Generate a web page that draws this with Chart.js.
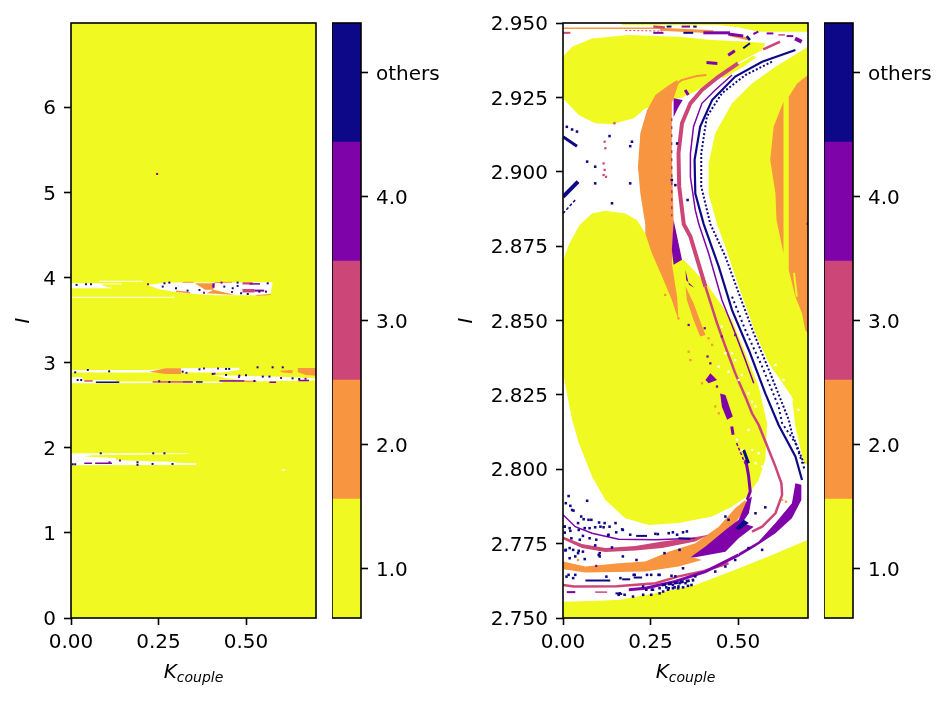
<!DOCTYPE html>
<html>
<head>
<meta charset="utf-8">
<script src="https://cdn.jsdelivr.net/npm/chart.js@4/dist/chart.umd.js"></script>
<style>
  html, body { margin: 0; background: #fff; }
  .box { position: absolute; top: 0; height: 703px; }
  .xlabel { position: absolute; top: 659px; width: 245px; text-align: center; font: italic 20px "DejaVu Sans"; color: #000; }
  .xlabel sub { font-size: 14px; vertical-align: -4px; line-height: 0; }
</style>
</head>
<body>
<div class="box" style="left:0;width:326px"><canvas id="mainLeft"></canvas></div>
<div class="box" style="left:332px;width:118px"><canvas id="barLeft"></canvas></div>
<div class="box" style="left:440px;width:378px"><canvas id="mainRight"></canvas></div>
<div class="box" style="left:824px;width:125px"><canvas id="barRight"></canvas></div>
<div class="xlabel" style="left:71px">K<sub>couple</sub></div>
<div class="xlabel" style="left:563px">K<sub>couple</sub></div>
<script>
const YELLOW = '#f0f921', ORANGE = '#f89540', PINK = '#cc4778', PURPLE = '#7e03a8', NAVY = '#0d0887', WHITE = '#ffffff';

const cbValues = [1, 2, 3, 4, 5];
const cbLabels = ['1.0', '2.0', '3.0', '4.0', 'others'];
const cbEdges = [0.6, 1.56, 2.52, 3.48, 4.44, 5.4];
const cbColors = [YELLOW, ORANGE, PINK, PURPLE, NAVY];

const xTicks = [0, 0.25, 0.5];
const xTickLabels = ['0.00', '0.25', '0.50'];
const leftYTicks = [0, 1, 2, 3, 4, 5, 6];
const leftYLabels = ['0', '1', '2', '3', '4', '5', '6'];
const rightYTicks = [2.75, 2.775, 2.8, 2.825, 2.85, 2.875, 2.9, 2.925, 2.95];
const rightYLabels = ['2.750', '2.775', '2.800', '2.825', '2.850', '2.875', '2.900', '2.925', '2.950'];

// left panel, regions as [Kcouple, I]
const lBase = [[0, 0], [0.7, 0], [0.7, 6.99], [0, 6.99]];
const lWhite39a = [[0, 3.932], [0.09, 3.932], [0.09, 3.905], [0.119, 3.874], [0, 3.874]];
const lWhite39b = [[0.219, 3.913], [0.271, 3.94], [0.576, 3.944], [0.571, 3.815], [0.548, 3.791], [0.414, 3.791], [0.319, 3.815], [0.252, 3.862]];
const lWhite29a = [[0, 2.914], [0.224, 2.914], [0.31, 2.934], [0.481, 2.941], [0.481, 2.914], [0.43, 2.883], [0, 2.883]];
const lWhite28a = [[0, 2.828], [0.033, 2.828], [0.033, 2.796], [0.128, 2.796], [0.128, 2.777], [0.433, 2.777], [0.433, 2.76], [0, 2.757]];
const lWhite28b = [[0.405, 2.855], [0.576, 2.836], [0.7, 2.816], [0.7, 2.789], [0.519, 2.777], [0.443, 2.816]];
const lWhite19 = [[0, 1.935], [0.167, 1.935], [0.333, 1.935], [0.333, 1.927], [0.167, 1.919], [0.062, 1.912], [0.038, 1.896], [0.129, 1.88], [0.129, 1.857], [0.224, 1.841], [0.295, 1.837], [0.3, 1.825], [0.357, 1.818], [0.357, 1.798], [0, 1.794]];
const lOrange1 = [[0.354, 3.933], [0.412, 3.933], [0.407, 3.855], [0.383, 3.855]];
const lOrange2 = [[0.407, 3.855], [0.469, 3.796], [0.388, 3.815]];
const lOrange3 = [[0.224, 2.894], [0.271, 2.934], [0.314, 2.934], [0.314, 2.867], [0.271, 2.867]];
const lOrange4 = [[0.648, 2.937], [0.7, 2.937], [0.7, 2.847], [0.671, 2.855], [0.648, 2.886]];
const lOrange5 = [[0.595, 2.906], [0.633, 2.914], [0.633, 2.875], [0.605, 2.883]];
const lPink1 = [[0.49, 3.866], [0.524, 3.866], [0.524, 3.823], [0.49, 3.823]];
const lPink2 = [[0.49, 3.944], [0.519, 3.944], [0.519, 3.917], [0.49, 3.917]];
const lNavyDots = [[0.043, 3.921], [0.057, 3.921], [0.016, 3.913], [0.262, 3.893], [0.267, 3.932], [0.3, 3.874], [0.333, 3.846], [0.367, 3.854], [0.438, 3.893], [0.462, 3.874], [0.476, 3.901], [0.486, 3.815], [0.505, 3.807], [0.557, 3.834], [0.538, 3.834], [0.562, 3.932], [0.476, 3.94], [0.281, 3.94],
  [0.048, 2.914], [0.109, 2.898], [0.012, 2.886], [0.319, 2.894], [0.443, 2.926], [0.452, 2.926], [0.533, 2.945], [0.576, 2.945], [0.605, 2.945], [0.367, 2.922], [0.405, 2.867], [0.443, 2.855], [0.481, 2.847], [0.5, 2.851], [0.548, 2.836], [0.567, 2.836], [0.524, 2.785], [0.633, 2.816], [0.652, 2.808], [0.019, 2.796], [0.029, 2.796], [0.252, 2.781], [0.281, 2.773],
  [0.005, 1.806], [0.012, 1.806], [0.085, 1.935], [0.235, 1.935], [0.267, 1.935], [0.19, 1.83], [0.233, 1.81], [0.29, 1.81], [0.19, 1.8]];
const lPurpleDots = [[0.22, 3.92], [0.407, 3.92], [0.407, 3.905], [0.407, 3.89], [0.38, 3.82], [0.46, 3.83], [0.43, 3.94], [0.33, 2.88], [0.38, 2.93], [0.42, 2.93], [0.41, 2.87], [0.48, 2.83], [0.6, 2.82], [0.67, 2.81], [0.11, 1.83], [0.14, 1.85], [0.246, 5.217]];

// right panel, regions as [Kcouple, I]
const rTopBand = [[0.169, 2.95], [0.7, 2.95], [0.7, 2.9471], [0.56, 2.9471], [0.5, 2.9486], [0.44, 2.9493], [0.169, 2.9493]];
const rBlobTop = [[0, 2.9387], [0.026, 2.942], [0.083, 2.9448], [0.188, 2.946], [0.33, 2.9454], [0.426, 2.9443], [0.53, 2.9437], [0.578, 2.9432], [0.569, 2.9409], [0.502, 2.9367], [0.445, 2.9322], [0.378, 2.927], [0.34, 2.925], [0.311, 2.9241], [0.235, 2.9213], [0.202, 2.918], [0.14, 2.916], [0.092, 2.9163], [0.045, 2.9191], [0, 2.9247]];
const rStreak = [[0.449, 2.9325], [0.506, 2.9364], [0.544, 2.939], [0.552, 2.9385], [0.515, 2.9353], [0.458, 2.9314]];
const rBlobRight = [[0.7, 2.942], [0.607, 2.9353], [0.54, 2.9297], [0.483, 2.923], [0.435, 2.9129], [0.416, 2.9028], [0.416, 2.8927], [0.44, 2.8824], [0.464, 2.8748], [0.502, 2.8614], [0.55, 2.8457], [0.588, 2.8356], [0.654, 2.8244], [0.664, 2.8144], [0.688, 2.802], [0.7, 2.8015]];
const rBlobLow = [[0, 2.8698], [0.016, 2.8754], [0.045, 2.8816], [0.05, 2.8824], [0.083, 2.886], [0.121, 2.8869], [0.178, 2.886], [0.211, 2.8838], [0.235, 2.8793], [0.32, 2.872], [0.35, 2.8698], [0.416, 2.8614], [0.483, 2.8502], [0.521, 2.839], [0.559, 2.8278], [0.583, 2.8155], [0.578, 2.8032], [0.559, 2.7964], [0.526, 2.7908], [0.483, 2.7875], [0.426, 2.7841], [0.33, 2.7819], [0.245, 2.7813], [0.178, 2.7835], [0.121, 2.7897], [0.083, 2.7976], [0.045, 2.8088], [0.026, 2.8166], [0, 2.8323]];
const rBottom = [[0, 2.7555], [0.102, 2.7558], [0.164, 2.7561], [0.264, 2.7583], [0.378, 2.7611], [0.492, 2.7662], [0.587, 2.7707], [0.7, 2.7763], [0.7, 2.75], [0, 2.75]];
const rOrangeWedge = [[0.326, 2.9308], [0.302, 2.9291], [0.264, 2.9258], [0.24, 2.9207], [0.221, 2.9129], [0.214, 2.9017], [0.221, 2.8927], [0.235, 2.8824], [0.235, 2.8793], [0.254, 2.8726], [0.283, 2.8648], [0.311, 2.8569], [0.33, 2.8502], [0.326, 2.858], [0.311, 2.8692], [0.316, 2.8838], [0.311, 2.9062], [0.311, 2.923], [0.33, 2.9296]];
const rOrangeStreak = [[0.35, 2.8614], [0.373, 2.8558], [0.407, 2.8451], [0.392, 2.8446], [0.373, 2.8502], [0.354, 2.8569]];
const rOrangeR1 = [[0.63, 2.9235], [0.602, 2.9152], [0.592, 2.904], [0.607, 2.8927], [0.61, 2.8838], [0.63, 2.8726]];
const rOrangeR2 = [[0.7, 2.9325], [0.669, 2.9297], [0.645, 2.9252], [0.645, 2.867], [0.664, 2.858], [0.683, 2.8524], [0.692, 2.8468], [0.7, 2.8457]];
const rOrangeBand = [[0, 2.769], [0.064, 2.7673], [0.159, 2.7684], [0.235, 2.769], [0.302, 2.7723], [0.378, 2.7751], [0.445, 2.7807], [0.492, 2.7869], [0.521, 2.7897], [0.526, 2.7875], [0.492, 2.7819], [0.454, 2.7774], [0.416, 2.7729], [0.364, 2.7707], [0.397, 2.7695], [0.33, 2.7673], [0.235, 2.7656], [0.064, 2.7653], [0, 2.7664]];
const rPurple1 = [[0.316, 2.9247], [0.342, 2.9241], [0.33, 2.9218], [0.316, 2.9184]];
const rPurple2 = [[0.316, 2.8838], [0.326, 2.8782], [0.34, 2.8704], [0.316, 2.8687], [0.311, 2.8737]];
const rPurple3 = [[0.35, 2.867], [0.36, 2.862], [0.375, 2.861], [0.352, 2.8635]];
const rPurple4 = [[0.407, 2.83], [0.421, 2.8323], [0.44, 2.83], [0.416, 2.8289]];
const rPurple5 = [[0.449, 2.8255], [0.464, 2.825], [0.485, 2.8177], [0.469, 2.8166], [0.454, 2.821]];
const rPurpleArc = [[0.664, 2.7953], [0.681, 2.7948], [0.681, 2.7897], [0.654, 2.7835], [0.607, 2.7785], [0.55, 2.774], [0.502, 2.7707], [0.502, 2.7718], [0.559, 2.7757], [0.607, 2.7819], [0.654, 2.7886]];
const rPurpleWedge = [[0.364, 2.7704], [0.407, 2.774], [0.464, 2.7796], [0.502, 2.783], [0.526, 2.7897], [0.54, 2.7908], [0.531, 2.7852], [0.512, 2.7819], [0.545, 2.7807], [0.502, 2.7768], [0.464, 2.7723], [0.378, 2.7704]];
const rNavyChunk = [[0.492, 2.7802], [0.516, 2.783], [0.531, 2.7819], [0.502, 2.7796]];
const rPinkUpper = [[0, 2.7774], [0.054, 2.7749], [0.121, 2.7735], [0.207, 2.7742], [0.283, 2.7757], [0.359, 2.7768], [0.416, 2.778], [0.378, 2.7757], [0.283, 2.7735], [0.207, 2.7727], [0.121, 2.7722], [0.054, 2.7735], [0, 2.7765]];

const rPinkArc = [[0.5, 2.9364], [0.445, 2.932], [0.397, 2.9275], [0.364, 2.923], [0.34, 2.9163], [0.33, 2.9062], [0.332, 2.895], [0.345, 2.8824], [0.364, 2.8782], [0.387, 2.8692], [0.407, 2.8614]];
const rPinkTail = [[0.407, 2.8614], [0.44, 2.8491], [0.464, 2.8412], [0.492, 2.8323], [0.521, 2.8244], [0.54, 2.8188], [0.559, 2.8149], [0.588, 2.8065], [0.607, 2.8009], [0.624, 2.7953], [0.626, 2.7914], [0.607, 2.7852], [0.569, 2.7807], [0.54, 2.779]];
const rPinkLower = [[0, 2.7611], [0.031, 2.7606], [0.154, 2.7607], [0.264, 2.7617], [0.33, 2.764], [0.397, 2.7656], [0.473, 2.7684]];
const rPurpleThin = [[0.483, 2.9325], [0.435, 2.9275], [0.397, 2.923], [0.373, 2.9152], [0.364, 2.9062], [0.364, 2.8983], [0.378, 2.8871], [0.388, 2.8824], [0.416, 2.8726], [0.454, 2.8569], [0.492, 2.8457], [0.521, 2.8367], [0.545, 2.8289]];
const rPurpleTail = [[0.502, 2.7712], [0.407, 2.7656], [0.321, 2.7623], [0.235, 2.76], [0.188, 2.7595]];
const rPurpleUpper = [[0, 2.7847], [0.035, 2.7807], [0.083, 2.7785], [0.159, 2.7765], [0.264, 2.7763], [0.378, 2.7768]];
const rPurpleNeck = [[0.522, 2.8032], [0.53, 2.798], [0.535, 2.7925], [0.526, 2.7897]];
const rNavy1 = [[0.664, 2.9409], [0.569, 2.937], [0.492, 2.932], [0.426, 2.9241], [0.392, 2.9152], [0.376, 2.904], [0.378, 2.8927], [0.402, 2.8824], [0.445, 2.8681], [0.483, 2.8535], [0.531, 2.8401], [0.578, 2.8255], [0.616, 2.8149], [0.664, 2.8043], [0.683, 2.7964]];
const rNavy2 = [[0.597, 2.937], [0.521, 2.9325], [0.454, 2.9264], [0.411, 2.9185], [0.395, 2.9062], [0.395, 2.895], [0.421, 2.8824], [0.464, 2.8715], [0.502, 2.8592], [0.545, 2.8457], [0.592, 2.8323], [0.645, 2.8166], [0.654, 2.8121], [0.688, 2.802]];
const rNavy3 = [[0.483, 2.858], [0.521, 2.8468], [0.569, 2.8345], [0.616, 2.8211], [0.626, 2.8155], [0.664, 2.8088], [0.69, 2.8]];
const rNavyDots = [[0.016, 2.791], [0.069, 2.7894], [0.026, 2.7863], [0.059, 2.7832], [0.073, 2.783], [0.092, 2.7805], [0.116, 2.7805], [0.15, 2.7819], [0.169, 2.7798], [0.005, 2.7807], [0.021, 2.7793], [0.045, 2.7796], [0.13, 2.778], [0.192, 2.778], [0.264, 2.7783], [0.302, 2.7785], [0.326, 2.778], [0.354, 2.7791], [0.045, 2.7726], [0.007, 2.7727], [0.035, 2.7707], [0.102, 2.7712], [0.14, 2.7737], [0.092, 2.7744], [0.016, 2.7645], [0.035, 2.7645], [0.164, 2.7634], [0.202, 2.7645], [0.24, 2.7645], [0.273, 2.7645], [0.321, 2.764], [0.378, 2.764], [0.435, 2.7656], [0.464, 2.7673], [0.492, 2.7695], [0.53, 2.7735], [0.569, 2.7729], [0.473, 2.783], [0.464, 2.7841], [0.55, 2.7852], [0.578, 2.7872], [0.33, 2.7606], [0.302, 2.76], [0.254, 2.7595], [0.35, 2.7617], [0.159, 2.7578],
  [0.008, 2.7886], [0.021, 2.7877], [0.03, 2.7861], [0.052, 2.7841], [0.081, 2.783], [0.103, 2.7821], [0.119, 2.7819], [0.005, 2.7807], [0.019, 2.7802], [0.043, 2.7819], [0.062, 2.7802], [0.076, 2.7802], [0.107, 2.7807], [0.133, 2.7807], [0.171, 2.7796], [0.152, 2.7788], [0.271, 2.7782], [0.314, 2.7788], [0.343, 2.7788], [0.005, 2.7787], [0.024, 2.7768], [0.048, 2.7763], [0.076, 2.7768], [0.095, 2.7763], [0.129, 2.7777], [0.057, 2.7776], [0.019, 2.7735], [0.008, 2.7729], [0.029, 2.7729], [0.043, 2.7718], [0.057, 2.7723], [0.105, 2.7718], [0.105, 2.7707], [0.019, 2.7701], [0.062, 2.7698], [0.171, 2.7707], [0.21, 2.7695], [0.29, 2.7718], [0.333, 2.7729], [0.01, 2.7639], [0.029, 2.7634], [0.124, 2.7639], [0.205, 2.7645], [0.252, 2.7645], [0.276, 2.7645], [0.31, 2.7642], [0.343, 2.7667],
  [0.229, 2.7606], [0.238, 2.7595], [0.257, 2.7595], [0.276, 2.76], [0.295, 2.7603], [0.314, 2.76], [0.329, 2.76], [0.343, 2.7603], [0.357, 2.7608], [0.367, 2.7611], [0.2, 2.7572], [0.162, 2.7583], [0.176, 2.7578], [0.229, 2.7578], [0.252, 2.7578], [0.276, 2.7583], [0.3, 2.7595], [0.319, 2.7603], [0.286, 2.7589], [0.333, 2.7617], [0.314, 2.7611],
  [0.011, 2.9151], [0.026, 2.9142], [0.04, 2.9135], [0.197, 2.9101], [0.192, 2.9086], [0.092, 2.8961], [0.133, 2.912], [0.069, 2.9034], [0.192, 2.8961], [0.092, 2.9017], [0.14, 2.8894], [0.311, 2.8972], [0.321, 2.8955], [0.356, 2.8905], [0.326, 2.9095], [0.7, 2.8825]];
const rPinkDots = [[0.119, 2.9101], [0.121, 2.9079], [0.116, 2.9028], [0.119, 2.9006], [0.116, 2.8989], [0.123, 2.8983], [0.147, 2.9163]];
const rOrangeDots = [[0.292, 2.8586], [0.33, 2.8507], [0.359, 2.8395], [0.364, 2.8367], [0.397, 2.8289], [0.435, 2.8211], [0.445, 2.8188], [0.426, 2.8418], [0.416, 2.844], [0.626, 2.7897], [0.637, 2.7891], [0.043, 2.7695]];
const rPurpleDots = [[0.413, 2.8379], [0.421, 2.8356], [0.492, 2.8451], [0.454, 2.8446], [0.405, 2.8474], [0.359, 2.8485], [0.44, 2.8278], [0.095, 2.7675]];
const rWhiteDots = [[0.454, 2.8479], [0.464, 2.839], [0.483, 2.839], [0.492, 2.8367], [0.445, 2.8345], [0.502, 2.83], [0.473, 2.8328], [0.511, 2.8317], [0.53, 2.8255], [0.54, 2.8227], [0.654, 2.8233], [0.673, 2.82], [0.607, 2.8351], [0.63, 2.83], [0.55, 2.8211], [0.497, 2.8099], [0.511, 2.8065], [0.54, 2.8065], [0.559, 2.8054], [0.55, 2.802], [0.569, 2.8009], [0.53, 2.8132]];

function xy(arr) { return arr.map(p => ({ x: p[0], y: p[1] })) }

function poly(color, arr) {
  return { data: xy([...arr, arr[0]]), showLine: true, fill: 'shape', backgroundColor: color, borderColor: color, borderWidth: 0, pointRadius: 0, tension: 0 }
}

function line(color, width, arr, dash) {
  return { data: xy(arr), showLine: true, fill: false, borderColor: color, borderWidth: width, borderDash: dash || [], pointRadius: 0, tension: 0 }
}

function dots(color, arr, size) {
  return { data: xy(arr), showLine: false, pointStyle: 'rect', pointRadius: size || 1.6, backgroundColor: color, borderWidth: 0 }
}

const leftLayers = [
  poly(YELLOW, lBase),
  poly(WHITE, lWhite39a), poly(WHITE, lWhite39b), poly(WHITE, lWhite29a), poly(WHITE, lWhite28a), poly(WHITE, lWhite28b), poly(WHITE, lWhite19),
  line(WHITE, 1, [[0.081, 3.956], [0.205, 3.956]]), line(WHITE, 1, [[0.09, 3.925], [0.145, 3.925]]), line(WHITE, 1, [[0, 3.768], [0.295, 3.768]]),
  line(WHITE, 1.5, [[0.603, 1.739], [0.612, 1.739]]),
  poly(ORANGE, lOrange1), poly(ORANGE, lOrange2), poly(ORANGE, lOrange3), poly(ORANGE, lOrange4), poly(ORANGE, lOrange5),
  line(ORANGE, 1, [[0.319, 3.944], [0.35, 3.944]]), line(ORANGE, 1, [[0.41, 3.94], [0.46, 3.944]]), line(ORANGE, 1.5, [[0.3, 3.84], [0.34, 3.82]]), line(ORANGE, 1, [[0.53, 3.79], [0.57, 3.8]]),
  line(ORANGE, 1.5, [[0.495, 2.78], [0.53, 2.78]]),
  poly(PINK, lPink1), poly(PINK, lPink2),
  line(PINK, 1.5, [[0.038, 2.785], [0.062, 2.785]]), line(PINK, 1.5, [[0.233, 2.773], [0.319, 2.773]]),
  line(PURPLE, 1.5, [[0.51, 3.925], [0.54, 3.925]]), line(PURPLE, 2, [[0.524, 3.846], [0.552, 3.846]]),
  line(PURPLE, 1.5, [[0.319, 2.773], [0.348, 2.773]]), line(PURPLE, 1.5, [[0.424, 2.785], [0.495, 2.785]]), line(PURPLE, 1.5, [[0.567, 2.77], [0.586, 2.77]]), line(PURPLE, 1.5, [[0.65, 2.79], [0.68, 2.79]]),
  line(PURPLE, 1.5, [[0.038, 1.818], [0.06, 1.818]]), line(PURPLE, 1.5, [[0.069, 1.818], [0.117, 1.818]]),
  line(NAVY, 1.5, [[0.071, 2.77], [0.138, 2.77]]), line(NAVY, 1.5, [[0.357, 2.773], [0.376, 2.773]]),
  dots(NAVY, lNavyDots, 1.4), dots(PURPLE, lPurpleDots, 1.4),
];

const rightLayers = [
  poly(YELLOW, rTopBand), poly(YELLOW, rBlobTop), poly(YELLOW, rStreak), poly(YELLOW, rBlobRight), poly(YELLOW, rBlobLow), poly(YELLOW, rBottom),
  poly(ORANGE, rOrangeWedge), poly(ORANGE, rOrangeStreak), poly(ORANGE, rOrangeR1), poly(ORANGE, rOrangeR2), poly(ORANGE, rOrangeBand),
  line(YELLOW, 2, [[0.66, 2.866], [0.668, 2.858]]),
  line(ORANGE, 1.5, [[0, 2.9482], [0.283, 2.9482]]), line(ORANGE, 3, [[0.277, 2.9479], [0.43, 2.9471]]), line(ORANGE, 3, [[0.477, 2.946], [0.534, 2.9445]]),
  line(ORANGE, 2, [[0.32, 2.9292], [0.339, 2.9308], [0.382, 2.9322], [0.41, 2.9325]]),
  line(PINK, 4, rPinkArc), line(PINK, 2.5, rPinkTail), line(PINK, 2.5, rPinkLower), poly(PINK, rPinkUpper),
  line(PINK, 2.5, [[0.258, 2.9488], [0.291, 2.9485]]), line(PINK, 2, [[0, 2.9467], [0.021, 2.9467]]), line(PINK, 1, [[0.178, 2.9475], [0.283, 2.9473]], [2, 2]),
  line(PINK, 1.5, [[0.092, 2.7587], [0.126, 2.7587]]), line(PINK, 2.5, [[0.572, 2.9411], [0.62, 2.9437]]), line(PINK, 1.5, [[0.615, 2.946], [0.634, 2.946]]),
  line(PURPLE, 1.5, rPurpleThin), line(PURPLE, 3, rPurpleTail), line(PURPLE, 1.5, rPurpleUpper), line(PURPLE, 3, rPurpleNeck),
  line(PURPLE, 1.5, [[0.496, 2.8088], [0.524, 2.8009]], [3, 2]), line(PURPLE, 3, [[0.482, 2.8144], [0.486, 2.8116]]),
  line(PURPLE, 1, [[0.311, 2.918], [0.311, 2.885]], [3, 5]),
  poly(PURPLE, rPurple1), poly(PURPLE, rPurple2), poly(PURPLE, rPurple3), poly(PURPLE, rPurple4), poly(PURPLE, rPurple5), poly(PURPLE, rPurpleArc), poly(PURPLE, rPurpleWedge),
  line(PURPLE, 3, [[0.401, 2.9467], [0.477, 2.9467]]), line(PURPLE, 3, [[0.472, 2.9463], [0.515, 2.9456]]), line(PURPLE, 2, [[0.339, 2.9488], [0.363, 2.9488]]), line(PURPLE, 2, [[0.258, 2.9467], [0.287, 2.9467]]),
  line(PURPLE, 3, [[0.472, 2.9392], [0.491, 2.9407]]), line(PURPLE, 3, [[0.41, 2.9367], [0.441, 2.9364]]), line(PURPLE, 3, [[0.349, 2.9275], [0.358, 2.9258]]),
  line(PURPLE, 2, [[0.544, 2.9463], [0.558, 2.9471]]), line(PURPLE, 2, [[0.582, 2.9465], [0.601, 2.9465]]), line(PURPLE, 2, [[0.639, 2.9456], [0.658, 2.9456]]), line(PURPLE, 4, [[0.663, 2.9448], [0.682, 2.9437]]),
  line(PURPLE, 2, [[0.011, 2.7587], [0.035, 2.7587]]),
  line(NAVY, 2.2, rNavy1), line(NAVY, 2, rNavy2, [2, 2]), line(NAVY, 2, rNavy3, [2, 3]), poly(NAVY, rNavyChunk),
  line(NAVY, 3, [[0, 2.9118], [0.04, 2.9086]]), line(NAVY, 4, [[0, 2.8916], [0.043, 2.8967]]), line(NAVY, 1.5, [[0, 2.886], [0.035, 2.8905]], [3, 2]),
  line(NAVY, 2, [[0.296, 2.9488], [0.31, 2.9488]]), line(NAVY, 2, [[0.372, 2.9488], [0.382, 2.9488]]), line(NAVY, 2, [[0.344, 2.9467], [0.372, 2.9467]]), line(NAVY, 2.5, [[0.525, 2.9456], [0.534, 2.9443]]), line(NAVY, 2, [[0.515, 2.9415], [0.534, 2.9432]]),
  line(NAVY, 3, [[0.516, 2.8065], [0.53, 2.802]]),
  line(NAVY, 2, [[0.064, 2.7626], [0.135, 2.7626]]), line(NAVY, 2, [[0.169, 2.763], [0.192, 2.763]]), line(NAVY, 2, [[0.202, 2.7636], [0.226, 2.7636]]),
  line(NAVY, 2, [[0.209, 2.7776], [0.24, 2.7776]]), line(NAVY, 2, [[0.33, 2.7768], [0.364, 2.7766]]), line(NAVY, 3, [[0.283, 2.7611], [0.375, 2.7628]], [4, 2]), line(NAVY, 2, [[0.15, 2.7583], [0.169, 2.7581]]),
  dots(NAVY, rNavyDots, 1.8), dots(PINK, rPinkDots), dots(ORANGE, rOrangeDots), dots(PURPLE, rPurpleDots), dots(WHITE, rWhiteDots),
];

const FONT = { family: 'DejaVu Sans', size: 20 };

// frame around the plot area, like the axes spines
const spines = {
  id: 'spines',
  afterDatasetsDraw(chart) {
    const { ctx, chartArea: a } = chart;
    ctx.save();
    ctx.strokeStyle = '#000';
    ctx.lineWidth = 1.6;
    ctx.strokeRect(a.left, a.top, a.right - a.left, a.bottom - a.top);
    ctx.restore();
  }
};

function tickGrid() {
  return { display: true, drawOnChartArea: false, drawTicks: true, tickLength: 7, tickWidth: 1.6, tickColor: '#000' }
}

function mainChart(id, layers, yMin, yMax, yTicks, yLabels, axisWidth, titlePad, right) {
  new Chart(document.getElementById(id), {
    type: 'scatter',
    // first dataset is drawn last in chart.js
    data: { datasets: layers.slice().reverse() },
    plugins: [spines],
    options: {
      responsive: true,
      maintainAspectRatio: false,
      animation: false,
      layout: { autoPadding: false, padding: { top: 23, right: right, bottom: 0, left: 0 } },
      plugins: { legend: { display: false }, tooltip: { enabled: false } },
      scales: {
        x: {
          type: 'linear', min: 0, max: 0.7,
          afterBuildTicks: s => { s.ticks = xTicks.map(v => ({ value: v })) },
          afterFit: s => { s.height = 85 },
          grid: tickGrid(),
          border: { display: false },
          ticks: { color: '#000', font: FONT, padding: 6, maxRotation: 0, autoSkip: false, callback: (v, i) => xTickLabels[i] },
        },
        y: {
          type: 'linear', min: yMin, max: yMax,
          afterBuildTicks: s => { s.ticks = yTicks.map(v => ({ value: v })) },
          afterFit: s => { s.width = axisWidth },
          grid: tickGrid(),
          border: { display: false },
          title: { display: true, text: 'I', color: '#000', font: { family: 'DejaVu Sans', size: 20, style: 'italic' }, padding: { top: titlePad, bottom: 0 } },
          ticks: { color: '#000', font: FONT, padding: 8, labelOffset: 2, autoSkip: false, callback: (v, i) => yLabels[i] },
        },
      },
    }
  });
}

function colorBar(id) {
  new Chart(document.getElementById(id), {
    type: 'bar',
    data: {
      labels: [''],
      datasets: cbColors.map((c, i) => ({ data: [[cbEdges[i], cbEdges[i + 1]]], backgroundColor: c, borderWidth: 0, barPercentage: 1, categoryPercentage: 1, grouped: false })),
    },
    plugins: [spines],
    options: {
      responsive: true,
      maintainAspectRatio: false,
      animation: false,
      layout: { autoPadding: false, padding: { top: 23, right: 0, bottom: 85, left: 0 } },
      plugins: { legend: { display: false }, tooltip: { enabled: false } },
      scales: {
        x: { display: false },
        y: {
          type: 'linear', position: 'right', min: 0.6, max: 5.4,
          afterBuildTicks: s => { s.ticks = cbValues.map(v => ({ value: v })) },
          afterFit: s => { s.width = id === 'barLeft' ? 89 : 96 },
          grid: tickGrid(),
          border: { display: false },
          ticks: { color: '#000', font: FONT, padding: 8, labelOffset: 2, autoSkip: false, callback: (v, i) => cbLabels[i] },
        },
      },
    }
  });
}

mainChart('mainLeft', leftLayers, 0, 6.99, leftYTicks, leftYLabels, 71, 12, 10);
colorBar('barLeft');
mainChart('mainRight', rightLayers, 2.75, 2.95, rightYTicks, rightYLabels, 123, 15, 10);
colorBar('barRight');
</script>
</body>
</html>
